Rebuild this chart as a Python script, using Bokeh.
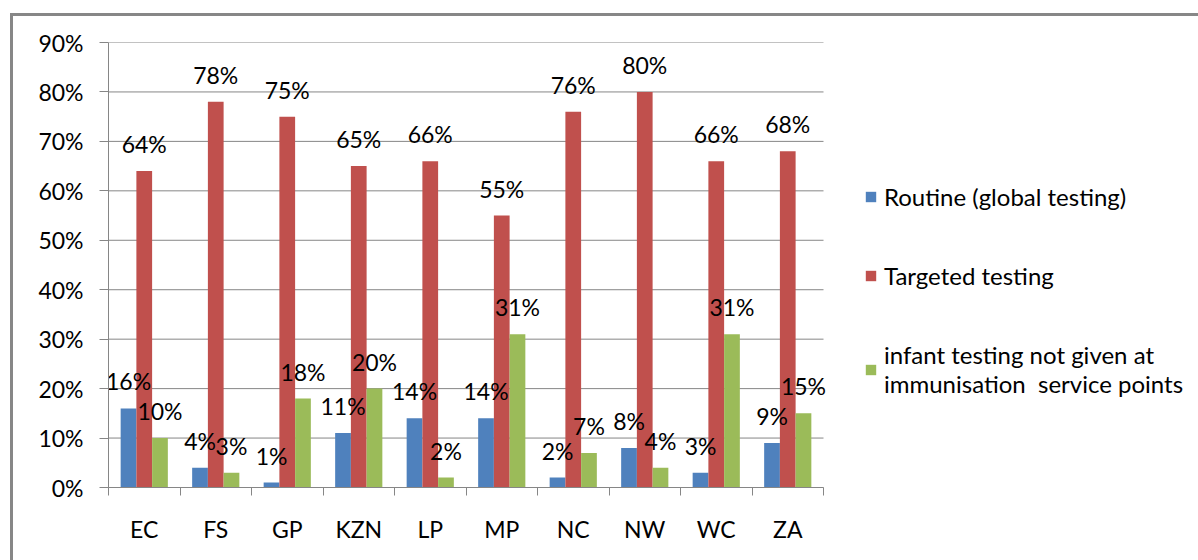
from bokeh.plotting import figure
from bokeh.models import (Range1d, FixedTicker, NumeralTickFormatter, Legend, LegendItem,
                          InlineStyleSheet)
from bokeh.core.properties import value
from bokeh.embed import file_html
from bokeh.resources import INLINE

categories = ["EC", "FS", "GP", "KZN", "LP", "MP", "NC", "NW", "WC", "ZA"]
routine = [16, 4, 1, 11, 14, 14, 2, 8, 3, 9]
targeted = [64, 78, 75, 65, 66, 55, 76, 80, 66, 68]
infant = [10, 3, 18, 20, 2, 31, 7, 4, 31, 15]
series_names = ["Routine (global testing)", "Targeted testing",
                "infant testing not given at\nimmunisation  service points"]
colors = ["#4F81BD", "#C0504D", "#9BBB59"]
y_ticks = [0, 10, 20, 30, 40, 50, 60, 70, 80, 90]

FONT = "Lato"
GRAY = "#868686"

W, H = 1198, 560
LEFT, TOP, BOTTOM = 108, 42, 73
CAT_AREA = 715  # pixel width occupied by the categories
n = len(categories)
x_end = n * (W - LEFT) / CAT_AREA

p = figure(width=W, height=H, output_backend="svg", toolbar_location=None,
           x_range=Range1d(0, x_end), y_range=Range1d(0, y_ticks[-1] / 100),
           min_border_left=LEFT, min_border_right=0, min_border_top=TOP,
           min_border_bottom=BOTTOM)
p.outline_line_color = None
p.background_fill_color = "white"
p.border_fill_color = "white"

# horizontal gridlines limited to the category area
yt = [t / 100 for t in y_ticks]
p.segment(x0=[0] * len(yt), x1=[n] * len(yt), y0=yt, y1=yt, line_color=GRAY, line_width=1)
p.xgrid.visible = False
p.ygrid.visible = False

# x axis: labels at category centres, ticks at boundaries
centers = [i + 0.5 for i in range(n)]
p.xaxis.bounds = (0, n)
p.xaxis.ticker = FixedTicker(ticks=centers, minor_ticks=list(range(n + 1)))
p.xaxis.major_label_overrides = {c: cat for c, cat in zip(centers, categories)}
p.xaxis.major_tick_out = 0
p.xaxis.major_tick_in = 0
p.xaxis.minor_tick_out = 8
p.xaxis.minor_tick_in = 0
p.xaxis.minor_tick_line_color = GRAY
p.xaxis.axis_line_color = GRAY
p.xaxis.major_label_standoff = 19
p.xaxis.major_label_text_font = FONT
p.xaxis.major_label_text_font_size = "23px"
p.xaxis.major_label_text_color = "#000000"

p.yaxis.ticker = FixedTicker(ticks=yt, minor_ticks=[])
p.yaxis.formatter = NumeralTickFormatter(format="0%")
p.yaxis.major_tick_out = 9
p.yaxis.major_tick_in = 0
p.yaxis.minor_tick_out = 0
p.yaxis.minor_tick_in = 0
p.yaxis.major_tick_line_color = GRAY
p.yaxis.axis_line_color = GRAY
p.yaxis.major_label_standoff = 16
p.yaxis.major_label_text_font = FONT
p.yaxis.major_label_text_font_size = "23px"
p.yaxis.major_label_text_color = "#000000"

bar_w = 0.22
offsets = [-bar_w, 0.0, bar_w]
all_series = [routine, targeted, infant]
renderers = []
for vals, off, col in zip(all_series, offsets, colors):
    xs = [c + off for c in centers]
    tops = [v / 100 for v in vals]
    r = p.vbar(x=xs, top=tops, bottom=0, width=bar_w, fill_color=col, line_color=None)
    renderers.append(r)

for vals, off in zip(all_series, offsets):
    xs = [c + off for c in centers]
    tops = [v / 100 for v in vals]
    p.text(x=xs, y=tops, text=[f"{v}%" for v in vals], text_align="center",
           text_baseline="middle", y_offset=-27, text_font=value(FONT),
           text_font_size="23px", text_color="#000000")

legend = Legend(items=[LegendItem(label=nm, renderers=[r]) for nm, r in zip(series_names, renderers)],
                location=(746, 79), spacing=50, padding=10, glyph_width=13, glyph_height=13,
                label_height=20, label_standoff=7, label_text_font=FONT,
                label_text_font_size="24px", label_text_color="#000000",
                label_text_line_height=1.4,
                border_line_alpha=0, background_fill_alpha=0)
p.add_layout(legend)

p.stylesheets = [InlineStyleSheet(css=(
    ":host::after { content: ''; position: absolute; left: 10px; top: 13px; "
    "right: 0px; bottom: 0px; border-left: 3px solid #878787; "
    "border-top: 3px solid #878787; pointer-events: none; }"))]

open("out.html", "w").write(file_html(p, INLINE))
